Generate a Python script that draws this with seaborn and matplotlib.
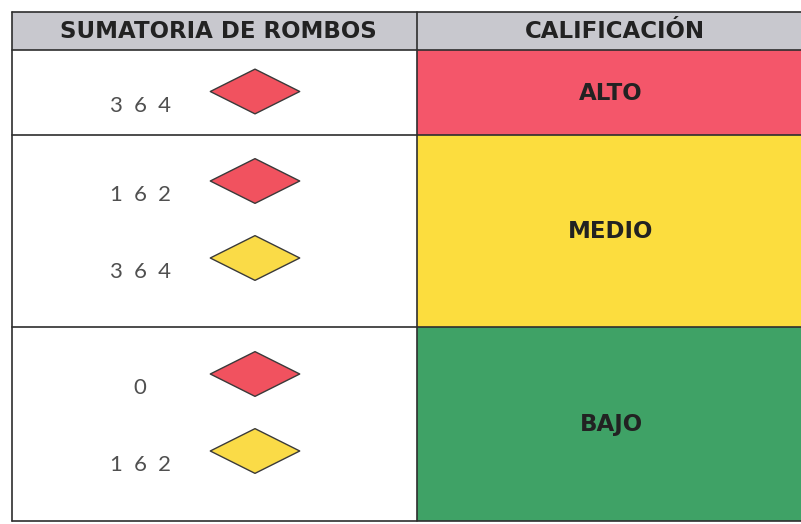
import matplotlib
matplotlib.use('Agg')
import matplotlib.pyplot as plt
from matplotlib.patches import Rectangle
from matplotlib.path import Path
from matplotlib.markers import MarkerStyle
import pandas as pd
import seaborn as sns

# Datos de la tabla
header_left = 'SUMATORIA DE ROMBOS'
header_right = 'CALIFICACIÓN'
niveles = ['ALTO', 'MEDIO', 'BAJO']
colores_nivel = ['#f4566a', '#fcdd3e', '#3fa266']
sumas = [[364], [162, 364], [0, 162]]
rombos = [['rojo'], ['rojo', 'amarillo'], ['rojo', 'amarillo']]
paleta_rombos = {'rojo': '#f1525f', 'amarillo': '#fadb47'}

# Layout (en pixeles de la imagen)
W, H = 801, 524
x_izq, x_div, x_der = 12, 417, 801
bordes = [12, 50, 135, 327, 521]
gris_header = '#c8c8ce'
linea = '#2e2e2e'

sns.set_theme(style='white')
plt.rcParams['font.family'] = ['DejaVu Sans']

fig = plt.figure(figsize=(W / 100, H / 100), dpi=100)
ax = fig.add_axes([0, 0, 1, 1])

# encabezado gris
ax.add_patch(Rectangle((x_izq, bordes[0]), x_der - x_izq, bordes[1] - bordes[0],
                       facecolor=gris_header, edgecolor='none'))
# celdas de calificación
for i, (nivel, color) in enumerate(zip(niveles, colores_nivel)):
    y0, y1 = bordes[i + 1], bordes[i + 2]
    ax.add_patch(Rectangle((x_div, y0), x_der - x_div, y1 - y0,
                           facecolor=color, edgecolor='none'))
    ax.text((x_div + x_der) / 2 + 2, (y0 + y1) / 2 + 1, nivel, ha='center', va='center',
            fontsize=16.5, fontweight='bold', color='#222222')

ax.text((x_izq + x_div) / 2 + 4, (bordes[0] + bordes[1]) / 2 + 1, header_left,
        ha='center', va='center', fontsize=16.5, fontweight='bold', color='#222222')
ax.text((x_div + x_der) / 2 + 6, (bordes[0] + bordes[1]) / 2 + 1, header_right,
        ha='center', va='center', fontsize=16.5, fontweight='bold', color='#222222')

# rombos y números
filas = []
for i, (vals, cols) in enumerate(zip(sumas, rombos)):
    y0, y1 = bordes[i + 1], bordes[i + 2]
    c = (y0 + y1) / 2
    offs = [-1] if len(vals) == 1 else [-50, 27]
    for v, col, o in zip(vals, cols, offs):
        filas.append({'suma': v, 'color': col, 'y': c + o, 'x': 255})
df = pd.DataFrame(filas)

rombo = MarkerStyle(Path([(-1, 0), (0, 0.5), (1, 0), (0, -0.5), (-1, 0)],
                         [Path.MOVETO, Path.LINETO, Path.LINETO, Path.LINETO, Path.CLOSEPOLY]))
sns.scatterplot(data=df, x='x', y='y', hue='color', palette=paleta_rombos,
                marker=rombo, s=4150, edgecolor='#3a3a3a', linewidth=1.0,
                legend=False, ax=ax, zorder=3)

for _, r in df.iterrows():
    ax.text(140, r['y'] + 14, '\u2002'.join(str(r['suma'])), ha='center', va='center',
            fontsize=16, family=['Lato', 'DejaVu Sans'], color='#505050')

# líneas de la tabla
for y in bordes:
    ax.plot([x_izq, x_der], [y, y], color=linea, lw=1.2, zorder=4)
for x in [x_izq, x_div]:
    ax.plot([x, x], [bordes[0], bordes[-1]], color=linea, lw=1.2, zorder=4)

ax.set_xlim(0, W)
ax.set_ylim(H, 0)
ax.set_axis_off()

fig.savefig('out.png', dpi=100, facecolor='white')
